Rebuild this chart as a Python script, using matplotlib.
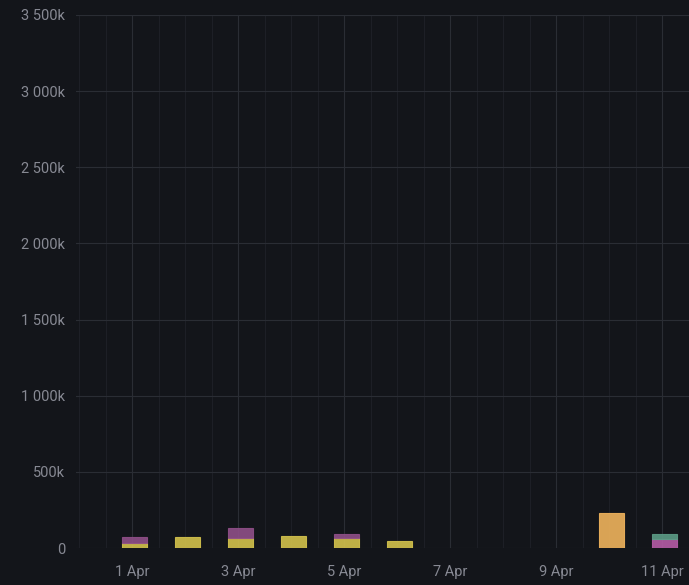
import numpy as np
import matplotlib
matplotlib.use("Agg")
import matplotlib.pyplot as plt
import matplotlib.dates as mdates
from matplotlib.ticker import FuncFormatter, MultipleLocator, FixedLocator
import datetime as dt

# daily values, in thousands
days = ["2024-04-01", "2024-04-02", "2024-04-03", "2024-04-04", "2024-04-05", "2024-04-06",
        "2024-04-07", "2024-04-08", "2024-04-09", "2024-04-10", "2024-04-11"]
yellow = [35, 70, 68, 79, 68, 46, 0, 0, 0, 0, 0]
purple = [40, 0, 62, 0, 22, 0, 0, 0, 0, 0, 0]
orange = [0, 0, 0, 0, 0, 0, 0, 0, 0, 232, 0]
pink = [0, 0, 0, 0, 0, 0, 0, 0, 0, 0, 57]
green = [0, 0, 0, 0, 0, 0, 0, 0, 0, 0, 33]
tick_days = ["2024-04-01", "2024-04-03", "2024-04-05", "2024-04-07", "2024-04-09", "2024-04-11"]

plt.rcParams['font.family'] = ['Roboto', 'DejaVu Sans']

bg = "#13151a"
fig = plt.figure(figsize=(6.89, 5.85), dpi=100, facecolor=bg)
ax = fig.add_axes([76 / 689, 1 - 548 / 585, 1 - 76 / 689, 533 / 585])
ax.set_facecolor(bg)

def to_num(ds):
    return mdates.date2num([dt.datetime.strptime(d, "%Y-%m-%d") for d in ds])

x = to_num(days) + 0.04
w = 0.48
yellow = np.array(yellow) * 1000
purple = np.array(purple) * 1000
orange = np.array(orange) * 1000
pink = np.array(pink) * 1000
green = np.array(green) * 1000

def bars(vals, bottom, color):
    m = vals > 0
    ax.bar(x[m], vals[m], width=w, bottom=bottom[m], color=color, alpha=0.9,
           edgecolor=color, linewidth=0.8, zorder=3)

zero = np.zeros(len(x))
bars(yellow, zero, "#d3c24c")
bars(purple, yellow, "#8f4f88")
bars(orange, zero, "#f0b35c")
bars(pink, zero, "#b55ca6")
bars(green, pink, "#5c9c86")

start = mdates.date2num(dt.datetime(2024, 3, 31)) - 0.06
ax.set_xlim(start, start + 613 / 53)
ax.set_ylim(0, 3500000)

ax.xaxis.set_major_locator(FixedLocator(to_num(tick_days)))
ax.xaxis.set_major_formatter(mdates.DateFormatter("%-d %b"))
ax.xaxis.set_minor_locator(mdates.HourLocator(byhour=[0, 12]))
ax.yaxis.set_major_locator(MultipleLocator(500000))

def yfmt(v, pos):
    if v == 0:
        return "0"
    k = int(round(v / 1000))
    s = "{:,}".format(k).replace(",", " ")
    return s + "k"

ax.yaxis.set_major_formatter(FuncFormatter(yfmt))

ax.grid(True, which="major", color="#2a2d34", linewidth=0.8, zorder=0)
ax.grid(True, which="minor", axis="x", color="#1e2027", linewidth=0.7, zorder=0)

for s in ax.spines.values():
    s.set_visible(False)
ax.tick_params(axis="both", which="both", length=0, colors="#878993", labelsize=10.5)
ax.tick_params(axis="x", pad=12)
ax.tick_params(axis="y", pad=8)

fig.savefig("out.png", dpi=100, facecolor=bg)
